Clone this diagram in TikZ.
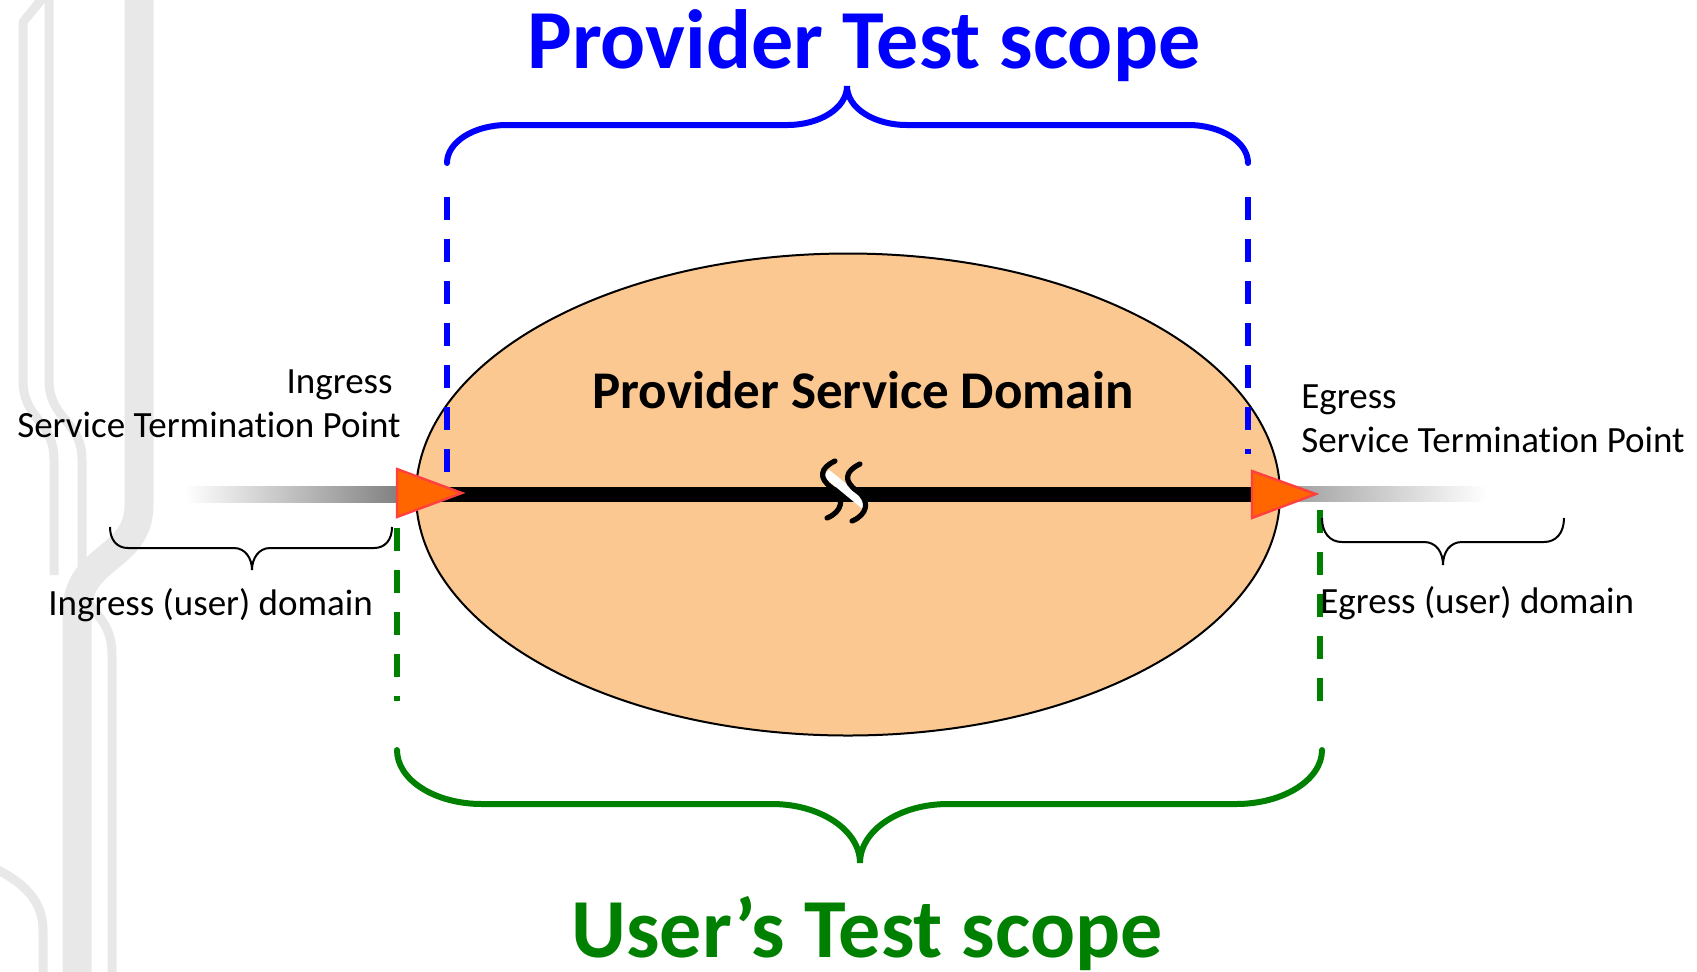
\documentclass[tikz,border=0pt]{standalone}
\usepackage{fontspec}
\setmainfont{Carlito}[Ligatures=NoCommon]
\usetikzlibrary{shapes.geometric}

\definecolor{wmgray}{RGB}{232,232,232}
\definecolor{domainfill}{RGB}{252,200,145}
\definecolor{tipfill}{RGB}{255,102,0}
\definecolor{tipedge}{RGB}{255,64,64}
\definecolor{provblue}{RGB}{0,0,255}
\definecolor{usergreen}{RGB}{0,128,0}
\definecolor{linkgray}{RGB}{128,128,128}
\definecolor{linkgraylight}{RGB}{160,160,160}

\begin{document}
\begin{tikzpicture}[x=0.5pt,y=-0.5pt,
  wmstroke/.style={draw=wmgray, line width=4.5pt, line join=round},
  scopebrace/.style={line width=3pt, line cap=round},
  scopedash/.style={line width=3pt, dash pattern=on 11.5pt off 9.5pt},
  domainbrace/.style={draw=black, line width=1pt},
  txt/.style={inner sep=0pt, font=\fontsize{18.5}{22}\selectfont},
  titletxt/.style={inner sep=0pt, font=\fontsize{42}{50}\selectfont\bfseries},
  stp/.style={fill=tipfill, draw=tipedge, line width=1.2pt, line join=miter},
  breakmark/.style={draw=black, line width=2.6pt, line cap=round},
]
\useasboundingbox (0,0) rectangle (1697,971);

% faint decorative strokes along the left edge
\draw[wmgray, line width=14.5pt]
  (139,-10) -- (139,505) .. controls (139,560) and (77,555) .. (77,612) -- (77,985);
\draw[wmstroke]
  (46,-6) -- (23,22) -- (23,380) .. controls (23,420) and (54,420) .. (54,460) -- (54,575);
\draw[wmstroke]
  (49,-10) -- (49,380) .. controls (49,420) and (82,420) .. (82,460) -- (82,575)
  .. controls (82,615) and (112,612) .. (112,655) -- (112,985);
\draw[wmstroke]
  (-10,866) .. controls (15,878) and (43,895) .. (43,930) -- (43,985);

% service domain
\node[ellipse, draw=black, line width=1pt, fill=domainfill,
      minimum width=432pt, minimum height=241pt, inner sep=0pt] (psd) at (848,494.5) {};
\node[inner sep=0pt, anchor=base, font=\fontsize{26.5}{30}\selectfont\bfseries]
  (psdtitle) at (863,408) {Provider Service Domain};

% access links outside the domain
\shade[left color=white, right color=linkgray] (185,486) rectangle (400,502);
\shade[left color=linkgraylight, right color=white] (1290,486) rectangle (1487,501);

% end points
\coordinate (inA) at (397,469);
\coordinate (inB) at (397,517);
\coordinate (inTip) at (462,493);
\coordinate (egA) at (1252,471);
\coordinate (egB) at (1252,518);
\coordinate (egTip) at (1316,494);

% provider path through the domain
\coordinate (pathL) at (440,494);
\coordinate (pathR) at (1270,494);
\draw[black, line width=7.5pt] (pathL) -- (pathR);

% break mark on the path
\draw[white, line width=4.5pt] (826,473) -- (866,506);
\draw[breakmark] (835,461) .. controls (820,468) and (818,478) .. (832,488)
                 .. controls (846,498) and (842,512) .. (827,518);
\draw[breakmark] (860,464) .. controls (845,471) and (843,481) .. (857,491)
                 .. controls (871,501) and (867,515) .. (852,521);

% provider test scope
\coordinate (pvL0) at (447,197);
\coordinate (pvL1) at (447,472);
\coordinate (pvR0) at (1248,197);
\coordinate (pvR1) at (1248,454);
\draw[provblue, scopedash] (pvL0) -- (pvL1);
\draw[provblue, scopedash] (pvR0) -- (pvR1);
\draw[provblue, scopebrace]
  (447,163) .. controls (447,142) and (474,125) .. (507,125) -- (787,125)
  .. controls (820,125) and (847,108) .. (847,86)
  .. controls (847,108) and (874,125) .. (907,125) -- (1188,125)
  .. controls (1221,125) and (1248,142) .. (1248,163);
\node[titletxt, text=provblue, anchor=base] (pvtitle) at (864,68) {Provider Test scope};

% termination points
\draw[stp] (inA) -- (inTip) -- (inB) -- cycle;
\draw[stp] (egA) -- (egTip) -- (egB) -- cycle;

% user test scope
\coordinate (usL0) at (397,528);
\coordinate (usL1) at (397,701);
\coordinate (usR0) at (1320,510);
\coordinate (usR1) at (1320,701);
\draw[usergreen, scopedash] (usL0) -- (usL1);
\draw[usergreen, scopedash] (usR0) -- (usR1);
\draw[usergreen, scopebrace]
  (397,750) .. controls (397,780) and (435,804) .. (482,804) -- (772,804)
  .. controls (820,804) and (860,830) .. (860,863)
  .. controls (860,830) and (900,804) .. (948,804) -- (1236,804)
  .. controls (1283,804) and (1322,780) .. (1322,750);
\node[titletxt, text=usergreen, anchor=base] (ustitle) at (867,957) {User’s Test scope};

% user domains
\draw[domainbrace]
  (110,527) .. controls (110,540) and (117,548) .. (128,548) -- (234,548)
  .. controls (245,548) and (252,558) .. (252,570)
  .. controls (252,558) and (259,548) .. (270,548) -- (374,548)
  .. controls (385,548) and (392,540) .. (392,527);
\draw[domainbrace]
  (1322,518) .. controls (1322,533) and (1330,542) .. (1342,542) -- (1424,542)
  .. controls (1436,542) and (1443,552) .. (1443,565)
  .. controls (1443,552) and (1450,542) .. (1462,542) -- (1544,542)
  .. controls (1556,542) and (1564,533) .. (1564,518);

% labels
\node[txt, anchor=base east] (inlbl1) at (393,393) {Ingress};
\node[txt, anchor=base east] (inlbl2) at (401,437) {Service Termination Point};
\node[txt, anchor=base west] (eglbl1) at (1301,408) {Egress};
\node[txt, anchor=base west] (eglbl2) at (1301,452) {Service Termination Point};
\node[txt, anchor=base west] (indom) at (48,615) {Ingress (user) domain};
\node[txt, anchor=base west] (egdom) at (1320,613) {Egress (user) domain};
\end{tikzpicture}
\end{document}
